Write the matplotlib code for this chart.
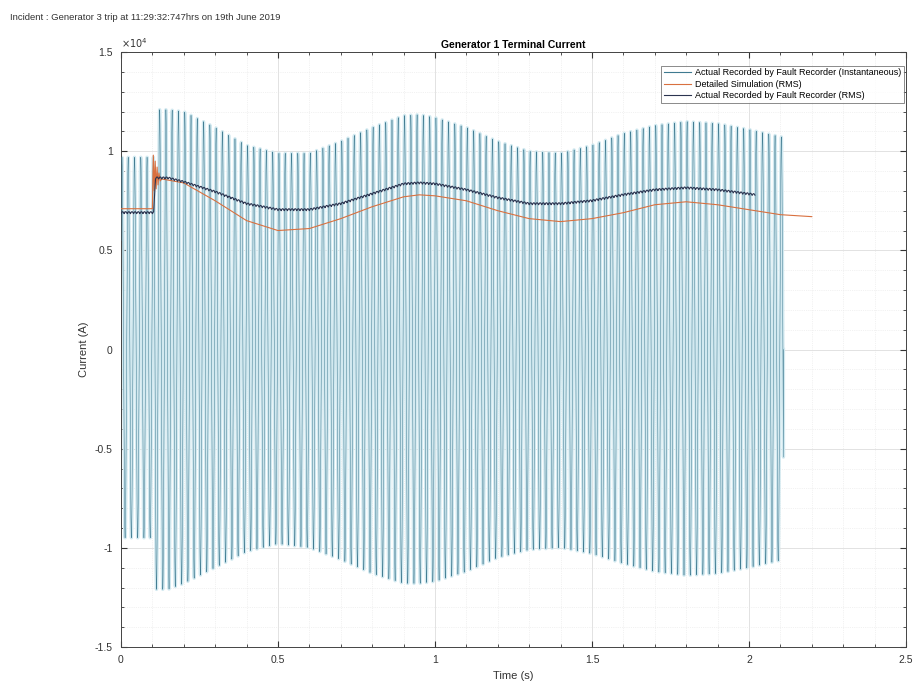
import numpy as np
import matplotlib
matplotlib.use("Agg")
import matplotlib.pyplot as plt
from matplotlib.ticker import FuncFormatter, MultipleLocator

plt.rcParams["font.family"] = ["Liberation Sans", "DejaVu Sans"]

# Recorded instantaneous current: envelope of the peaks (A)
env_t = [0.0, 0.104, 0.108, 0.15, 0.2, 0.3, 0.4, 0.5, 0.6, 0.7, 0.8, 0.9, 0.95,
         1.0, 1.1, 1.2, 1.3, 1.4, 1.5, 1.6, 1.7, 1.8, 1.9, 2.0, 2.11]
env_pos = [9700, 9700, 12100, 12100, 12000, 11200, 10300, 9900, 9900, 10500,
           11200, 11800, 11850, 11700, 11200, 10500, 10000, 9900, 10300, 10900,
           11300, 11500, 11400, 11100, 10700]
env_neg = [-9500, -9500, -12100, -12100, -11800, -11000, -10200, -9800, -10000,
           -10600, -11300, -11800, -11800, -11700, -11200, -10500, -10100,
           -10000, -10300, -10800, -11200, -11400, -11300, -11000, -10600]
grid_freq = 50.0
start_phase = 0.6

# Recorded RMS current (A)
rec_t = [0.0, 0.05, 0.104, 0.11, 0.15, 0.2, 0.3, 0.4, 0.5, 0.6, 0.7, 0.8, 0.9,
         0.95, 1.0, 1.1, 1.2, 1.3, 1.4, 1.5, 1.6, 1.7, 1.8, 1.9, 2.02]
rec_rms = [6850, 6850, 6850, 8600, 8600, 8400, 7900, 7300, 7000, 7000, 7300,
           7800, 8300, 8350, 8300, 8000, 7600, 7300, 7300, 7450, 7750, 8000,
           8100, 8000, 7750]
rec_ripple = 100  # 100 Hz ripple left on the recorder's RMS trace

# Detailed simulation RMS current (A)
sim_t = [0.0, 0.1, 0.103, 0.106, 0.109, 0.112, 0.115, 0.118, 0.121, 0.125,
         0.13, 0.2, 0.3, 0.4, 0.5, 0.6, 0.7, 0.8, 0.9, 0.95, 1.0, 1.1, 1.2,
         1.3, 1.4, 1.5, 1.6, 1.7, 1.8, 1.9, 2.0, 2.1, 2.2]
sim_rms = [7100, 7100, 9800, 8000, 9500, 8100, 9200, 8300, 8900, 8500, 8600,
           8400, 7500, 6500, 6000, 6100, 6600, 7200, 7700, 7800, 7750, 7500,
           7000, 6600, 6450, 6600, 6900, 7300, 7450, 7300, 7050, 6800, 6700]

# instantaneous waveform sampled at 5 kHz
t = np.arange(0.0, env_t[-1], 0.0002)
carrier = np.sin(2 * np.pi * grid_freq * t + start_phase)
pos = np.interp(t, env_t, env_pos)
neg = -np.interp(t, env_t, env_neg)
inst = np.where(carrier > 0, carrier * pos, carrier * neg)
t = np.append(t, t[-1])
inst = np.append(inst, 0.0)

# recorder RMS trace with its ripple
tr = np.arange(0.0, rec_t[-1], 0.001)
rec = np.interp(tr, rec_t, rec_rms) + rec_ripple * np.abs(np.sin(2 * np.pi * grid_freq * tr))

fig = plt.figure(figsize=(9.13, 6.82), dpi=100)
ax = fig.add_axes([0.1325, 0.0513, 0.8598, 0.8724])

ax.plot(t, inst, color="#d2e9f0", linewidth=2.4, zorder=2)
ax.plot(t, inst, color="#3f7a90", linewidth=0.35, zorder=3,
        label="Actual Recorded by Fault Recorder (Instantaneous)")
ax.plot(sim_t, sim_rms, color="#d9703f", linewidth=0.8, zorder=4,
        label="Detailed Simulation (RMS)")
ax.plot(tr, rec, color="#2b3450", linewidth=0.8, zorder=5,
        label="Actual Recorded by Fault Recorder (RMS)")

ax.set_xlim(0, 2.5)
ax.set_ylim(-15000, 15000)
ax.xaxis.set_major_locator(MultipleLocator(0.5))
ax.xaxis.set_minor_locator(MultipleLocator(0.1))
ax.yaxis.set_major_locator(MultipleLocator(5000))
ax.yaxis.set_minor_locator(MultipleLocator(1000))
ax.xaxis.set_major_formatter(FuncFormatter(lambda v, p: f"{v:g}"))
ax.yaxis.set_major_formatter(FuncFormatter(lambda v, p: f"{v / 1e4:g}"))
ax.tick_params(which="both", direction="in", top=True, right=True,
               labelsize=7.5, color="#333333", labelcolor="#333333")
ax.tick_params(which="major", length=4, pad=6)
ax.tick_params(which="minor", length=2)
ax.grid(which="major", color="#dddddd", linewidth=0.6)
ax.grid(which="minor", color="#e6e6e6", linewidth=0.5, linestyle=":")
ax.set_axisbelow(True)
for s in ax.spines.values():
    s.set_color("#444444")
    s.set_linewidth(0.7)

ax.text(0.0, 1.004, r"$\times10^{4}$", transform=ax.transAxes, fontsize=7,
        color="#333333", ha="left", va="bottom")
ax.set_title("Generator 1 Terminal Current", fontsize=7.5, fontweight="bold",
             pad=3)
ax.set_xlabel("Time (s)", fontsize=8, color="#333333", labelpad=4)
ax.set_ylabel("Current (A)", fontsize=8, color="#333333", labelpad=4)

leg = ax.legend(loc="upper right", bbox_to_anchor=(0.997, 0.977), fontsize=6.5,
                frameon=True, fancybox=False, edgecolor="#555555",
                borderpad=0.3, labelspacing=0.25, handlelength=3.0,
                handletextpad=0.4, borderaxespad=0.0)
leg.get_frame().set_linewidth(0.6)
for h in leg.get_lines():
    h.set_linewidth(0.8)

fig.text(0.011, 0.975, "Incident : Generator 3 trip at 11:29:32:747hrs on 19th June 2019",
         fontsize=6.8, color="#333333", ha="left", va="center")

fig.savefig("out.png", dpi=100)
